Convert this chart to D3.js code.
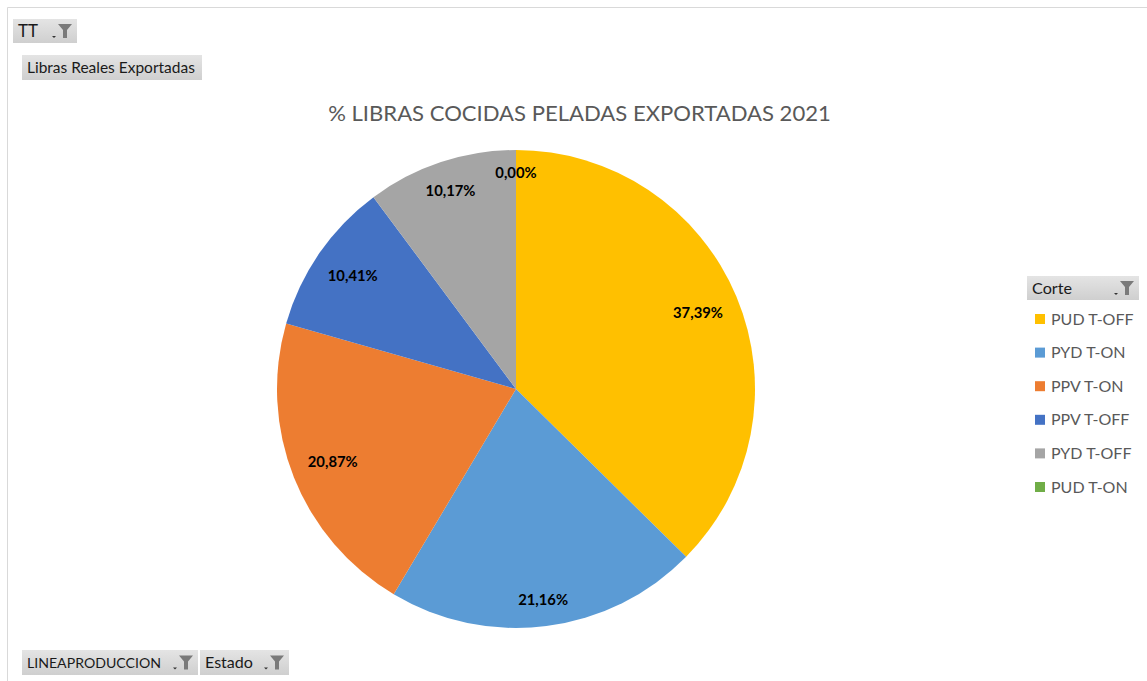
<!DOCTYPE html>
<html>
<head>
<meta charset="utf-8">
<script src="https://cdn.jsdelivr.net/npm/d3@7/dist/d3.min.js"></script>
<style>
  html, body { margin: 0; padding: 0; background: #fff; }
  svg { display: block; }
</style>
</head>
<body>
<svg id="chart" width="1147" height="681"></svg>
<script>
// Series: share of exported cooked-peeled pounds per cut
const categories = ["PUD T-OFF", "PYD T-ON", "PPV T-ON", "PPV T-OFF", "PYD T-OFF", "PUD T-ON"];
const values = [37.39, 21.16, 20.87, 10.41, 10.17, 0.00];
const colors = ["#FFC000", "#5B9BD5", "#ED7D31", "#4472C4", "#A5A5A5", "#70AD47"];

const titleText = "% LIBRAS COCIDAS PELADAS EXPORTADAS 2021";
const legendTitle = "Corte";
const pageFilter = "TT";
const valueField = "Libras Reales Exportadas";
const axisFields = ["LINEAPRODUCCION", "Estado"];

const FONT = "Lato, 'Open Sans', 'DejaVu Sans', sans-serif";
const svg = d3.select("#chart");

// chart frame (top and left edges visible)
svg.append("line").attr("x1", 7.5).attr("y1", 7.5).attr("x2", 1147).attr("y2", 7.5)
  .attr("stroke", "#d9d9d9").attr("stroke-width", 1);
svg.append("line").attr("x1", 7.5).attr("y1", 7.5).attr("x2", 7.5).attr("y2", 681)
  .attr("stroke", "#d9d9d9").attr("stroke-width", 1);

// gradient for pivot field buttons
const defs = svg.append("defs");
const grad = defs.append("linearGradient").attr("id", "btn").attr("x1", 0).attr("y1", 0).attr("x2", 0).attr("y2", 1);
grad.append("stop").attr("offset", "0%").attr("stop-color", "#e4e4e4");
grad.append("stop").attr("offset", "100%").attr("stop-color", "#cfcfcf");

// scale a text's font size so its rendered width equals `width`; returns the size
function fitText(sel, width) {
  const node = sel.node();
  const w = node.getComputedTextLength();
  let fs = parseFloat(sel.attr("font-size"));
  if (w > 0) {
    fs = fs * width / w;
    sel.attr("font-size", fs);
  }
  return fs;
}

function fieldButton(x, y, w, h, label, textW, withFilter) {
  const g = svg.append("g").attr("transform", `translate(${x},${y})`);
  g.append("rect").attr("width", w).attr("height", h).attr("fill", "url(#btn)");
  const t = g.append("text").attr("x", 5).attr("y", h / 2 + 5.5)
    .attr("font-family", FONT).attr("font-size", 15).attr("fill", "#1a1a1a").text(label);
  fitText(t, textW);
  if (withFilter) {
    const fx = w - 25;
    // small dropdown arrow
    g.append("path").attr("d", `M${fx},${h / 2 + 5} l4,0 l-2,2 z`).attr("fill", "#333");
    // funnel glyph
    g.append("path")
      .attr("d", `M${fx + 6},${h / 2 - 7} L${fx + 20},${h / 2 - 7} L${fx + 15},${h / 2 - 1} L${fx + 15},${h / 2 + 7} L${fx + 11},${h / 2 + 7} L${fx + 11},${h / 2 - 1} Z`)
      .attr("fill", "#7a7a7a");
  }
  return g;
}

fieldButton(13, 19, 64, 24, pageFilter, 20, true);
fieldButton(22, 55, 180, 25, valueField, 168, false);
fieldButton(22, 650, 176, 25, axisFields[0], 134, true);
fieldButton(200, 650, 89, 25, axisFields[1], 48, true);
fieldButton(1027, 276, 112, 24, legendTitle, 40, true);

// title
const title = svg.append("text").attr("x", 579.5).attr("y", 121)
  .attr("text-anchor", "middle").attr("font-family", FONT).attr("font-size", 21)
  .attr("fill", "#595959").text(titleText);
fitText(title, 503);

// pie
const cx = 516, cy = 389, R = 239;
const data = categories.map((c, i) => ({ cat: c, value: values[i], color: colors[i] }));
const pie = d3.pie().value(d => d.value).sort(null);
const arcs = pie(data);
const arc = d3.arc().innerRadius(0).outerRadius(R);

const g = svg.append("g").attr("transform", `translate(${cx},${cy})`);
g.selectAll("path").data(arcs).join("path")
  .attr("d", arc).attr("fill", d => d.data.color);

// data labels: placed inside near the rim, pulled in by the label's extent
const fmt = v => v.toFixed(2).replace(".", ",") + "%";
const labelW = 50, labelH = 14, rimGap = 16;

// one common size for all labels, sized from a full-width label
const probe = svg.append("text").attr("font-family", FONT).attr("font-size", 14)
  .attr("font-weight", "bold").text(fmt(values[0]));
const labelSize = fitText(probe, labelW);
probe.remove();

g.selectAll("text.lbl").data(arcs).join("text").attr("class", "lbl")
  .attr("font-family", FONT).attr("font-size", labelSize).attr("font-weight", "bold")
  .attr("fill", "#000").attr("text-anchor", "middle")
  .attr("transform", d => {
    const a = (d.startAngle + d.endAngle) / 2;
    const sx = Math.sin(a), cy_ = -Math.cos(a);
    const ext = Math.abs(sx) * labelW / 2 + Math.abs(cy_) * labelH / 2;
    const r = R - rimGap - ext;
    return `translate(${sx * r},${cy_ * r + 5})`;
  })
  .text(d => fmt(d.data.value));

// legend
const leg = svg.append("g").attr("transform", "translate(1035,319)");
const items = leg.selectAll("g").data(data).join("g")
  .attr("transform", (d, i) => `translate(0,${i * 33.6})`);
items.append("rect").attr("x", 0).attr("y", -5).attr("width", 10).attr("height", 10)
  .attr("fill", d => d.color);
items.append("text").attr("x", 16).attr("y", 5.5)
  .attr("font-family", FONT).attr("font-size", 16).attr("fill", "#595959")
  .text(d => d.cat);
</script>
</body>
</html>
